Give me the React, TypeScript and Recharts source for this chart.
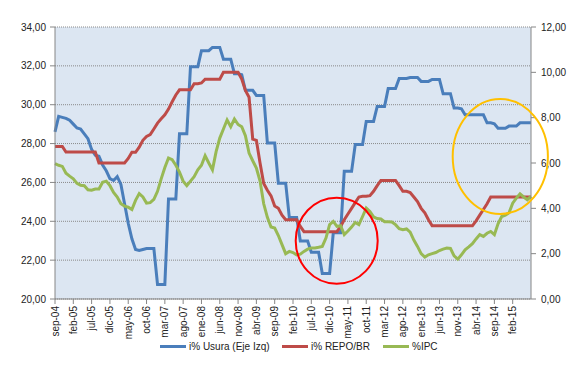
import React from 'react';
import { ComposedChart, Line, XAxis, YAxis, CartesianGrid, Legend } from 'recharts';

const MESES = ['ene', 'feb', 'mar', 'abr', 'may', 'jun', 'jul', 'ago', 'sep', 'oct', 'nov', 'dic'];

// monthly categories sep-04 .. jul-15
const meses: string[] = [];
for (let i = 0; i < 131; i++) {
  const m = (8 + i) % 12;
  const y = 4 + Math.floor((8 + i) / 12);
  meses.push(`${MESES[m]}-${String(y).padStart(2, '0')}`);
}

const tickLabels = [
  'sep-04', 'feb-05', 'jul-05', 'dic-05', 'may-06', 'oct-06', 'mar-07', 'ago-07', 'ene-08', 'jun-08',
  'nov-08', 'abr-09', 'sep-09', 'feb-10', 'jul-10', 'dic-10', 'may-11', 'oct-11', 'mar-12', 'ago-12',
  'ene-13', 'jun-13', 'nov-13', 'abr-14', 'sep-14', 'feb-15',
];

// i% Usura (left axis)
const usura = [
  28.6, 29.4, 29.35, 29.3, 29.2, 29.0, 28.8, 28.75, 28.5, 28.25,
  27.7, 27.4, 27.35, 26.9, 26.6, 26.2, 26.1, 26.3, 25.9, 24.9,
  23.9, 23.1, 22.55, 22.5, 22.55, 22.6, 22.6, 22.6, 20.75, 20.75,
  20.75, 25.15, 25.15, 25.15, 28.5, 28.5, 28.5, 31.95, 31.95, 31.95,
  32.78, 32.78, 32.78, 32.95, 32.95, 32.95, 32.34, 32.34, 32.34, 31.6,
  31.6, 31.55, 30.74, 30.74, 30.74, 30.48, 30.48, 30.48, 28.03, 28.03,
  28.03, 25.96, 25.96, 25.96, 24.19, 24.19, 24.19, 22.98, 22.98, 22.98,
  22.41, 22.41, 22.41, 21.31, 21.31, 21.31, 23.41, 23.41, 23.41, 26.57,
  26.57, 26.57, 27.95, 27.95, 27.95, 29.14, 29.14, 29.14, 29.91, 29.91,
  29.91, 30.83, 30.83, 30.83, 31.35, 31.35, 31.35, 31.4, 31.4, 31.4,
  31.2, 31.2, 31.2, 31.3, 31.3, 31.3, 30.57, 30.57, 30.57, 29.83,
  29.83, 29.79, 29.48, 29.48, 29.48, 29.48, 29.48, 29.48, 29.07, 29.07,
  29.02, 28.79, 28.79, 28.79, 28.9, 28.9, 28.9, 29.07, 29.07, 29.07,
  29.07,
];

// i% REPO/BR (right axis)
const repo = [
  6.73, 6.73, 6.73, 6.48, 6.48, 6.48, 6.48, 6.48, 6.48, 6.48,
  6.48, 6.48, 6.0, 6.0, 6.0, 6.0, 6.0, 6.0, 6.0, 6.0,
  6.2, 6.47, 6.47, 6.7, 7.0, 7.17, 7.25, 7.5, 7.76, 7.95,
  8.13, 8.38, 8.7, 9.0, 9.23, 9.23, 9.23, 9.23, 9.5, 9.5,
  9.53, 9.7, 9.7, 9.7, 9.7, 9.7, 10.0, 10.0, 10.0, 10.0,
  10.0, 9.7, 9.2, 8.9, 7.05, 7.0, 6.0, 5.1, 4.8, 4.55,
  4.1, 4.0, 3.7, 3.5, 3.5, 3.5, 3.5, 3.2, 2.97, 2.97,
  2.97, 2.97, 2.97, 2.97, 2.97, 2.97, 2.97, 2.97, 3.2, 3.5,
  3.75, 4.0, 4.25, 4.5, 4.53, 4.53, 4.56, 4.75, 5.0, 5.23,
  5.23, 5.23, 5.23, 5.23, 5.0, 4.75, 4.75, 4.7, 4.5, 4.3,
  4.0, 3.8, 3.5, 3.23, 3.23, 3.23, 3.23, 3.23, 3.23, 3.23,
  3.23, 3.23, 3.23, 3.23, 3.23, 3.45, 3.7, 3.95, 4.2, 4.5,
  4.5, 4.5, 4.5, 4.5, 4.5, 4.5, 4.5, 4.5, 4.5, 4.5,
  4.5,
];

// %IPC (right axis)
const ipc = [
  5.97, 5.9, 5.85, 5.55, 5.42, 5.3, 5.1, 5.02, 5.0, 4.82,
  4.8, 4.85, 4.85, 5.15, 5.2, 5.0, 4.7, 4.5, 4.2, 4.1,
  4.05, 3.95, 4.35, 4.65, 4.5, 4.23, 4.25, 4.4, 4.75, 5.3,
  5.8, 6.22, 6.15, 5.9, 5.6, 5.2, 5.0, 5.2, 5.4, 5.7,
  5.9, 6.32, 6.0, 5.7, 6.5, 7.1, 7.5, 7.9, 7.6, 7.94,
  7.7, 7.6, 7.2, 6.44, 6.1, 5.78, 5.2, 4.2, 3.6, 3.18,
  3.13, 2.8, 2.4, 2.0, 2.1, 2.05, 1.95, 1.98, 2.1, 2.2,
  2.25, 2.25, 2.28, 2.32, 2.69, 3.28, 3.42, 3.2, 3.23, 2.84,
  3.0, 3.17, 3.38, 3.28, 3.64, 4.01, 3.86, 3.62, 3.55, 3.53,
  3.41, 3.41, 3.4, 3.28, 3.1, 3.06, 3.09, 2.95, 2.6, 2.32,
  2.0, 1.85, 1.95, 2.0, 2.05, 2.14, 2.2, 2.25, 2.23, 1.9,
  1.76, 1.95, 2.17, 2.3, 2.44, 2.65, 2.84, 2.76, 2.9, 2.98,
  2.84, 3.32, 3.64, 3.7, 3.8, 4.23, 4.45, 4.64, 4.5, 4.38,
  4.53,
];

const leftTicks = [20, 22, 24, 26, 28, 30, 32, 34];
const rightTicks = [0, 2, 4, 6, 8, 10, 12];

const data = meses.map((mes, i) => ({ mes, usura: usura[i], repo: repo[i], ipc: ipc[i] }));

const FONT = '"Liberation Sans", Arial, sans-serif';
const fmt = (v: number) => v.toFixed(2).replace('.', ',');

const XTick = (props: any) => {
  const { x, y, payload } = props;
  return (
    <text x={x} y={y} transform={`rotate(-90, ${x}, ${y})`} textAnchor="end" dy={3.5}
      fontSize={10} fontFamily={FONT} fill="#222">
      {payload.value}
    </text>
  );
};

const legendItems = [
  { label: 'i% Usura (Eje Izq)', color: '#4A7EBB', left: 160 },
  { label: 'i% REPO/BR', color: '#BE4B48', left: 282 },
  { label: '%IPC', color: '#98B954', left: 383 },
];

const LegendBox = () => (
  <div style={{ position: 'relative', width: 586, height: 18, fontFamily: FONT, fontSize: 10, color: '#222' }}>
    {legendItems.map((it) => (
      <div key={it.label} style={{ position: 'absolute', left: it.left, top: 2, display: 'flex', alignItems: 'center', whiteSpace: 'nowrap' }}>
        <div style={{ width: 26, height: 3, background: it.color, marginRight: 3 }} />
        <span>{it.label}</span>
      </div>
    ))}
  </div>
);

export default function App() {
  return (
    <div style={{ position: 'absolute', left: 0, top: 0, width: 586, height: 377, background: '#fff' }}>
      <ComposedChart width={586} height={377} data={data} margin={{ top: 27, right: 0, bottom: 20, left: 0 }}>
        <CartesianGrid yAxisId="left" vertical={false} stroke="#8a8a8a" strokeDasharray="1 1" fill="#DCE6F2" fillOpacity={1} />
        <XAxis dataKey="mes" ticks={tickLabels} interval={0} height={40} tick={<XTick />}
          stroke="#868686" tickSize={5} tickMargin={2} />
        <YAxis yAxisId="left" orientation="left" width={55} domain={[20, 34]} ticks={leftTicks}
          tickFormatter={fmt} stroke="#868686" tickSize={5} tickMargin={4}
          tick={{ fontSize: 10, fontFamily: FONT, fill: '#222' }} />
        <YAxis yAxisId="right" orientation="right" width={55} domain={[0, 12]} ticks={rightTicks}
          tickFormatter={fmt} stroke="#868686" tickSize={5} tickMargin={5}
          tick={{ fontSize: 10, fontFamily: FONT, fill: '#222' }} />
        <Legend verticalAlign="bottom" height={18} content={() => <LegendBox />} />
        <Line yAxisId="left" dataKey="usura" stroke="#4A7EBB" strokeWidth={3} dot={false} isAnimationActive={false} />
        <Line yAxisId="right" dataKey="repo" stroke="#BE4B48" strokeWidth={3} dot={false} isAnimationActive={false} />
        <Line yAxisId="right" dataKey="ipc" stroke="#98B954" strokeWidth={3} dot={false} isAnimationActive={false} />
      </ComposedChart>
      <svg width={586} height={377} style={{ position: 'absolute', left: 0, top: 0, pointerEvents: 'none' }}>
        <ellipse cx={336.7} cy={240.7} rx={41} ry={43} fill="none" stroke="#FF0000" strokeWidth={2} />
        <ellipse cx={500.3} cy={156.5} rx={47.6} ry={57.5} fill="none" stroke="#FFC000" strokeWidth={2} />
      </svg>
    </div>
  );
}
